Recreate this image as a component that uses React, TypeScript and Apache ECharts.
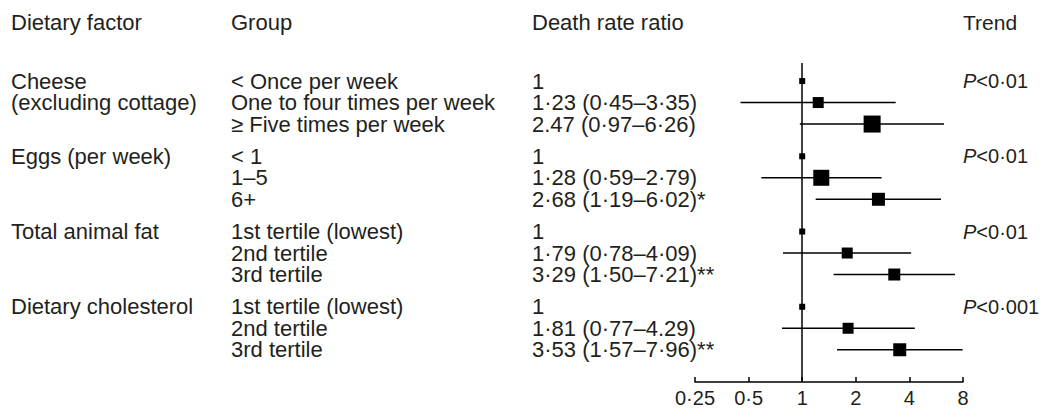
import React, { useEffect, useRef } from "react";
import * as echarts from "echarts";

const factorLines: string[][] = [
  ["Cheese", "(excluding cottage)"],
  ["Eggs (per week)"],
  ["Total animal fat"],
  ["Dietary cholesterol"],
];
const groupLabels: string[][] = [
  ["< Once per week", "One to four times per week", "\u2265 Five times per week"],
  ["< 1", "1\u20135", "6+"],
  ["1st tertile (lowest)", "2nd tertile", "3rd tertile"],
  ["1st tertile (lowest)", "2nd tertile", "3rd tertile"],
];
const ratioLabels: string[][] = [
  ["1", "1\u00b723 (0\u00b745\u20133\u00b735)", "2.47 (0\u00b797\u20136\u00b726)"],
  ["1", "1\u00b728 (0\u00b759\u20132\u00b779)", "2\u00b768 (1\u00b719\u20136\u00b702)*"],
  ["1", "1\u00b779 (0\u00b778\u20134\u00b709)", "3\u00b729 (1\u00b750\u20137\u00b721)**"],
  ["1", "1\u00b781 (0\u00b777\u20134.29)", "3\u00b753 (1\u00b757\u20137\u00b796)**"],
];
const estimates: number[][] = [
  [1, 1.23, 2.47],
  [1, 1.28, 2.68],
  [1, 1.79, 3.29],
  [1, 1.81, 3.53],
];
const lowerCI: (number | null)[][] = [
  [null, 0.45, 0.97],
  [null, 0.59, 1.19],
  [null, 0.78, 1.5],
  [null, 0.77, 1.57],
];
const upperCI: (number | null)[][] = [
  [null, 3.35, 6.26],
  [null, 2.79, 6.02],
  [null, 4.09, 7.21],
  [null, 4.29, 7.96],
];
// marker (weight) sizes as drawn
const weights: number[][] = [
  [6, 11, 17],
  [6, 16, 13],
  [6, 11, 12],
  [6, 11, 13],
];
const trendP: string[] = ["0\u00b701", "0\u00b701", "0\u00b701", "0\u00b7001"];
const headers = { factor: "Dietary factor", group: "Group", ratio: "Death rate ratio", trend: "Trend" };
const xTicks = [0.25, 0.5, 1, 2, 4, 8];

const FONT = "'Liberation Sans', Arial, Helvetica, sans-serif";
const TEXT_COLOR = "#231f20";
const GROUP_GAP = 3.5;

export default function App() {
  const ref = useRef<HTMLDivElement>(null);
  useEffect(() => {
    if (!ref.current) return;
    const chart = echarts.init(ref.current, undefined, { renderer: "svg" });
    const rows: number[][] = [];
    estimates.forEach((grp, g) =>
      grp.forEach((est, r) => {
        const u = g * GROUP_GAP + r;
        const lo = lowerCI[g][r] ?? est;
        const hi = upperCI[g][r] ?? est;
        rows.push([est, lo, hi, u, weights[g][r]]);
      })
    );
    const lastRow = (estimates.length - 1) * GROUP_GAP + 2;
    chart.setOption({
      animation: false,
      grid: { left: 695, right: 80, top: 63, bottom: 27, containLabel: false },
      xAxis: {
        type: "log",
        logBase: 2,
        min: xTicks[0],
        max: xTicks[xTicks.length - 1],
        position: "bottom",
        splitLine: { show: false },
        axisLine: { show: true, onZero: false, lineStyle: { color: "#000", width: 1.5 } },
        axisTick: { show: true, inside: true, length: 5, lineStyle: { color: "#000", width: 1.5 } },
        minorTick: { show: false },
        axisLabel: {
          color: TEXT_COLOR,
          fontFamily: FONT,
          fontSize: 20,
          margin: 6,
          showMinLabel: true,
          showMaxLabel: true,
          formatter: (v: number) => String(+Number(v).toPrecision(3)).replace(".", "\u00b7"),
        },
      },
      yAxis: {
        type: "value",
        inverse: true,
        min: -0.84,
        max: lastRow + 1.5,
        show: false,
      },
      series: [
        {
          type: "custom",
          data: rows,
          encode: { x: [0, 1, 2], y: 3 },
          clip: false,
          renderItem: (params: any, api: any) => {
            const est = api.value(0);
            const lo = api.value(1);
            const hi = api.value(2);
            const u = api.value(3);
            const size = api.value(4);
            const c = api.coord([est, u]);
            const children: any[] = [];
            if (hi > lo) {
              const a = api.coord([lo, u]);
              const b = api.coord([hi, u]);
              children.push({
                type: "line",
                shape: { x1: a[0], y1: a[1], x2: b[0], y2: b[1] },
                style: { stroke: "#000", lineWidth: 1.5 },
              });
            }
            children.push({
              type: "rect",
              shape: { x: c[0] - size / 2, y: c[1] - size / 2, width: size, height: size },
              style: { fill: "#000" },
            });
            return { type: "group", children };
          },
          markLine: {
            silent: true,
            symbol: "none",
            label: { show: false },
            lineStyle: { color: "#000", width: 1.5, type: "solid" },
            data: [{ xAxis: 1 }],
          },
          z: 3,
        },
      ],
    });

    const py = (u: number) => (chart.convertToPixel({ gridIndex: 0 }, [1, u]) as number[])[1];
    const graphics: any[] = [];
    const addText = (x: number, y: number, text: string, size = 22, rich?: any) =>
      graphics.push({
        type: "text",
        x,
        y,
        style: {
          text,
          fill: TEXT_COLOR,
          fontFamily: FONT,
          fontSize: size,
          lineHeight: 20,
          verticalAlign: "middle",
          align: "left",
          rich,
        },
      });
    const headerY = 22;
    addText(11, headerY, headers.factor);
    addText(231, headerY, headers.group);
    addText(532, headerY, headers.ratio);
    addText(963, headerY, headers.trend, 21);
    estimates.forEach((grp, g) => {
      factorLines[g].forEach((line, i) => addText(11, py(g * GROUP_GAP + i), line));
      grp.forEach((_, r) => {
        const y = py(g * GROUP_GAP + r);
        addText(231, y, groupLabels[g][r]);
        addText(532, y, ratioLabels[g][r]);
      });
      addText(963, py(g * GROUP_GAP), `{i|P}<${trendP[g]}`, 20, {
        i: { fontStyle: "italic", fontFamily: FONT, fontSize: 20, lineHeight: 20, fill: TEXT_COLOR, color: TEXT_COLOR },
      });
    });
    chart.setOption({ graphic: graphics });

    return () => chart.dispose();
  }, []);
  return (
    <div
      ref={ref}
      style={{ position: "fixed", left: 0, top: 0, width: 1043, height: 409, background: "#fff" }}
    />
  );
}
